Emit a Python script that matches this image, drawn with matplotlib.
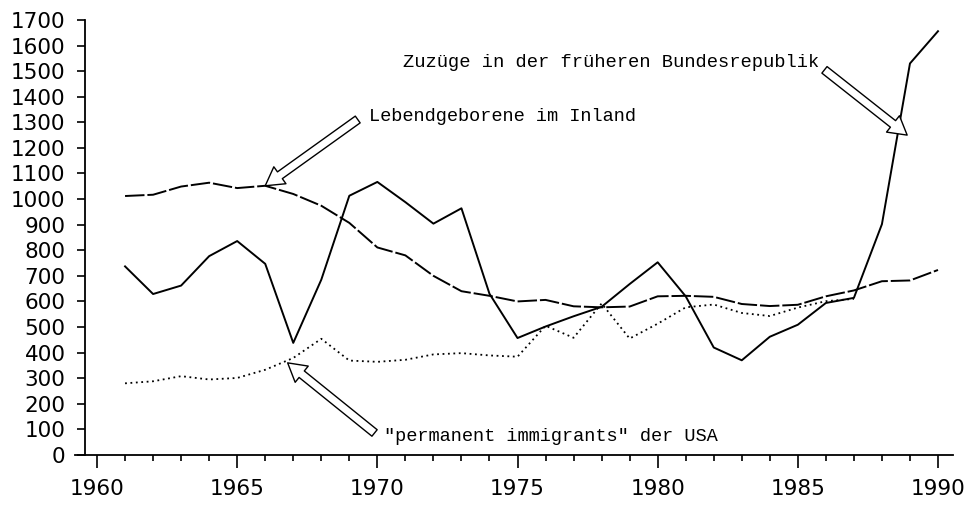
import matplotlib.pyplot as plt
from matplotlib.ticker import MultipleLocator

years = list(range(1961, 1991))
zuzuege = [737, 629, 662, 777, 836, 747, 438, 685, 1013, 1067,
           988, 904, 964, 630, 457, 502, 542, 579, 668, 753,
           620, 420, 370, 462, 509, 594, 614, 902, 1530, 1656]
lebendgeborene = [1012, 1017, 1049, 1064, 1043, 1052, 1020, 974, 907, 811,
                  780, 700, 640, 622, 600, 606, 581, 577, 580, 620,
                  622, 618, 590, 582, 587, 620, 643, 679, 682, 723]
years_usa = list(range(1961, 1988))
immigrants_usa = [280, 288, 308, 295, 301, 333, 379, 454, 369, 364,
                  372, 393, 398, 389, 384, 505, 458, 592, 455, 513,
                  577, 588, 555, 543, 576, 601, 610]

x_ticks = [1960, 1965, 1970, 1975, 1980, 1985, 1990]
y_ticks = list(range(0, 1701, 100))

fig = plt.figure(figsize=(9.68, 5.13), dpi=100)
ax = fig.add_axes([0.0775, 0.1131, 0.907, 0.848])

ax.plot(years, zuzuege, color='black', lw=1.4, linestyle='-')
ax.plot(years, lebendgeborene, color='black', lw=1.4, dashes=(10, 1.5))
ax.plot(years_usa, immigrants_usa, color='black', lw=1.3, dashes=(1, 2))

ax.set_xlim(1959.215, 1990.535)
ax.set_ylim(0, 1700)
ax.spines['top'].set_visible(False)
ax.spines['right'].set_visible(False)
ax.spines['left'].set_position(('data', 1959.57))
ax.spines['left'].set_linewidth(1.3)
ax.spines['bottom'].set_linewidth(1.3)

ax.set_xticks(x_ticks)
ax.xaxis.set_minor_locator(MultipleLocator(1))
ax.set_yticks(y_ticks)
ax.tick_params(axis='x', which='major', direction='out', length=9, width=1.2,
               labelsize=15.5, pad=8)
ax.tick_params(axis='x', which='minor', direction='out', length=4, width=1.2)
ax.tick_params(axis='y', direction='out', length=6, width=1.2,
               labelsize=15.5, pad=8)

arrow = dict(width=6, headwidth=15, headlength=13, shrink=0,
             facecolor='white', edgecolor='black', lw=1.0)
mono = 'Liberation Mono'

ax.annotate('', xy=(1966, 1052), xytext=(1969.3, 1311), arrowprops=arrow)
ax.text(1969.7, 1323, 'Lebendgeborene im Inland', family=mono,
        fontsize=13.4, ha='left', va='center')

ax.annotate('', xy=(1988.9, 1250), xytext=(1985.95, 1505), arrowprops=arrow)
ax.text(1985.75, 1533, 'Zuzüge in der früheren Bundesrepublik', family=mono,
        fontsize=13.5, ha='right', va='center')

ax.annotate('', xy=(1966.8, 360), xytext=(1969.9, 86), arrowprops=arrow)
ax.text(1970.25, 74, '"permanent immigrants" der USA', family=mono,
        fontsize=13.4, ha='left', va='center')

fig.savefig('out.png', dpi=100)
